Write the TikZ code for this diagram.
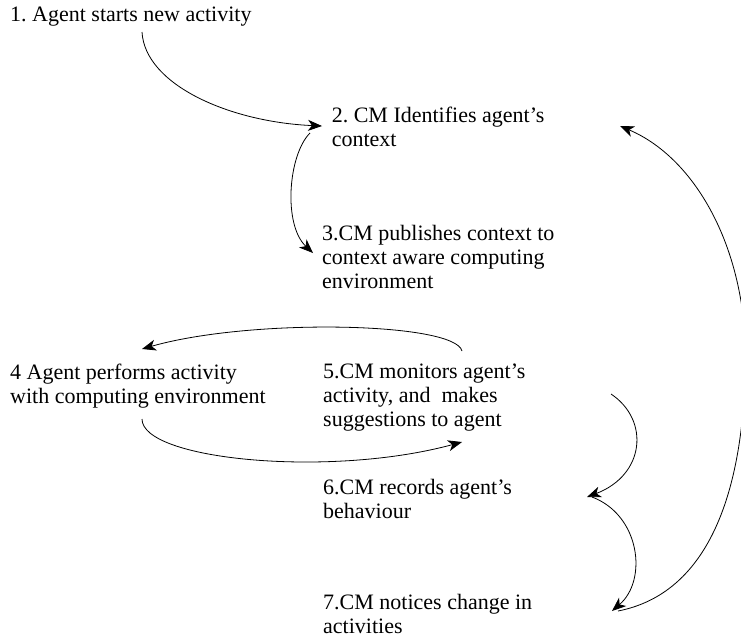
\documentclass[tikz,border=0pt]{standalone}
\usepackage{fontspec}
\setmainfont{Liberation Serif}
\usetikzlibrary{arrows.meta}
\begin{document}
\frenchspacing
\begin{tikzpicture}[x=1pt,y=-1pt,
  lbl/.style={font=\fontsize{22}{24}\selectfont, align=left, anchor=base west, inner sep=0pt},
  conn/.style={line width=0.8pt, -{Stealth[length=14pt,width=11pt,inset=4pt]}},
  plainline/.style={line width=0.8pt}]
\clip (0,0) rectangle (741,638);
% labels (anchor = baseline of the last line)
\node[lbl] (n1) at (10,21.3) {1. Agent starts new activity};
\node[lbl] (n2) at (331.6,146) {2. CM Identifies agent’s\\context};
\node[lbl] (n3) at (322,288) {3.CM publishes context to\\context aware computing\\environment};
\node[lbl] (n4) at (10,403.3) {4 Agent performs activity\\with computing environment};
\node[lbl] (n5) at (323,426.7) {5.CM monitors agent’s\\activity, and\ \ makes\\suggestions to agent};
\node[lbl] (n6) at (323,518) {6.CM records agent’s\\behaviour};
\node[lbl] (n7) at (323,633.5) {7.CM notices change in\\activities};
% connector end points
\coordinate (p1) at (142,32);
\coordinate (p2in) at (322,126);
\coordinate (p2out) at (310,133);
\coordinate (p3in) at (313,253);
\coordinate (p5top) at (462,351);
\coordinate (p4top) at (142,349);
\coordinate (p4bot) at (142,419);
\coordinate (p5bot) at (462,442);
\coordinate (p5right) at (611,394);
\coordinate (p6in) at (587,497);
\coordinate (p6out) at (592,497);
\coordinate (p7in) at (612,611);
\coordinate (p7out) at (618,611);
\coordinate (pright) at (745,380);
\coordinate (p2right) at (620,126);
% connectors
\draw[conn] (p1) .. controls (145,85) and (230,122) .. (p2in);
\draw[conn] (p2out) .. controls (288,155) and (283,225) .. (p3in);
\draw[conn] (p5top) .. controls (455,322) and (250,318) .. (p4top);
\draw[conn] (p4bot) .. controls (142,460) and (330,478) .. (p5bot);
\draw[conn] (p5right) .. controls (650,420) and (645,475) .. (p6in);
\draw[conn] (p6out) .. controls (640,515) and (648,580) .. (p7in);
\draw[plainline] (p7out) .. controls (700,595) and (740,510) .. (pright);
\draw[conn] (pright) .. controls (752,260) and (700,160) .. (p2right);
\end{tikzpicture}
\end{document}
